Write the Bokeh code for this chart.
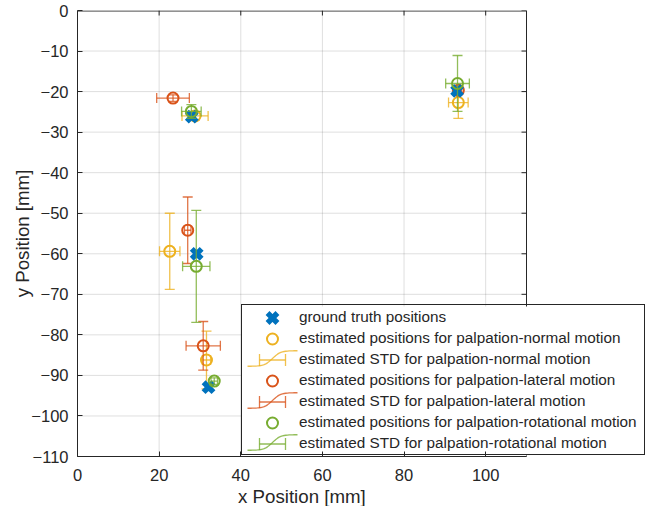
import numpy as np
from bokeh.plotting import figure
from bokeh.models import ColumnDataSource, Legend, LegendItem, FixedTicker, Range1d, Title
from bokeh.embed import file_html
from bokeh.resources import INLINE

# ---------------- data ----------------
gt_x = [28.0, 93.0, 29.2, 32.1]
gt_y = [-26.2, -19.8, -60.0, -92.9]

normal_x = [28.8, 93.3, 22.6, 31.6]
normal_y = [-26.0, -22.7, -59.4, -86.2]
normal_xstd = [3.2, 2.4, 2.5, 1.0]
normal_ystd = [1.0, 3.9, 9.4, 7.1]

lateral_x = [23.4, 93.3, 27.0, 30.8]
lateral_y = [-21.6, -19.7, -54.2, -82.7]
lateral_xstd = [4.0, 0.8, 0.8, 4.2]
lateral_ystd = [0.8, 0.8, 8.2, 6.0]

rot_x = [27.9, 93.1, 29.1, 33.5]
rot_y = [-24.9, -18.0, -63.1, -91.4]
rot_xstd = [2.4, 2.9, 3.35, 0.8]
rot_ystd = [1.7, 6.9, 13.8, 0.8]

legend_labels = [
    "ground truth positions",
    "estimated positions for palpation-normal motion",
    "estimated STD for palpation-normal motion",
    "estimated positions for palpation-lateral motion",
    "estimated STD for palpation-lateral motion",
    "estimated positions for palpation-rotational motion",
    "estimated STD for palpation-rotational motion",
]
x_ticks = [0, 20, 40, 60, 80, 100]
y_ticks = [0, -10, -20, -30, -40, -50, -60, -70, -80, -90, -100, -110]
AX_XMAX = 110  # axes box ends here
AX_YMIN, AX_YMAX = -110, 0

BLUE, YELLOW, RED, GREEN = "#0072BD", "#EDB120", "#D95319", "#77AC30"
INK = "#262626"
FONT = "Liberation Sans"

# ---------------- figure ----------------
AX_W = 449                      # pixel width of the 0..110 axes box
FW, FH = 568, 446               # frame is wider so the legend can stick out
PPX = AX_W / AX_XMAX
PPY = FH / (AX_YMAX - AX_YMIN)
X0, X1 = 0, FW / PPX

p = figure(frame_width=FW, frame_height=FH,
           x_range=Range1d(X0, X1), y_range=Range1d(AX_YMIN, AX_YMAX),
           output_backend="svg", toolbar_location=None,
           min_border_left=77, min_border_right=2,
           min_border_top=10, min_border_bottom=40,
           y_axis_label="y Position [mm]")
p.background_fill_color = "white"
p.border_fill_color = "white"
p.outline_line_color = None


def style_axis(ax, ticks):
    ax.ticker = FixedTicker(ticks=ticks)
    ax.axis_line_color = INK
    ax.axis_line_width = 1
    ax.major_tick_line_color = INK
    ax.major_tick_in = 5
    ax.major_tick_out = 0
    ax.minor_tick_in = 0
    ax.minor_tick_out = 0
    ax.major_label_text_font = FONT
    ax.major_label_text_color = INK
    ax.major_label_text_font_size = "16.5px"
    ax.axis_label_text_font = FONT
    ax.axis_label_text_font_style = "normal"
    ax.axis_label_text_color = INK
    ax.axis_label_text_font_size = "18.7px"


style_axis(p.xaxis[0], x_ticks)
style_axis(p.yaxis[0], y_ticks)
p.xaxis[0].bounds = (0, AX_XMAX)
p.xaxis[0].major_label_standoff = 12
p.yaxis[0].major_label_standoff = 9
p.yaxis[0].axis_label_standoff = -5

# x label centred under the 0..110 axes box (text is about 128 px wide)
xlab = Title(text="x Position [mm]", align="left", offset=AX_W / 2 - 64,
             text_font=FONT, text_font_size="18.7px", text_font_style="normal",
             text_color=INK, standoff=0)
p.add_layout(xlab, "below")

p.xgrid.visible = False
p.ygrid.visible = False

# grid lines only across the axes box
gkw = dict(line_color=INK, line_alpha=0.15, line_width=1)
p.segment(x0=x_ticks, y0=[AX_YMIN] * len(x_ticks), x1=x_ticks, y1=[AX_YMAX] * len(x_ticks), **gkw)
p.segment(x0=[0] * len(y_ticks), y0=y_ticks, x1=[AX_XMAX] * len(y_ticks), y1=y_ticks, **gkw)

# ---------------- box edges + inner ticks on top and right ----------------
bw = dict(line_color=INK, line_width=1)
p.segment(x0=[0], y0=[AX_YMAX - 0.5 / PPY], x1=[AX_XMAX], y1=[AX_YMAX - 0.5 / PPY], **bw)
p.segment(x0=[AX_XMAX], y0=[AX_YMIN], x1=[AX_XMAX], y1=[AX_YMAX], **bw)
p.segment(x0=x_ticks, y0=[AX_YMAX] * len(x_ticks), x1=x_ticks,
          y1=[AX_YMAX - 5 / PPY] * len(x_ticks), **bw)
p.segment(x0=[AX_XMAX] * len(y_ticks), y0=y_ticks, x1=[AX_XMAX - 5 / PPX] * len(y_ticks),
          y1=y_ticks, **bw)

# ---------------- legend background (white, hides grid and box) ----------------
LEG_X, LEG_Y = 164, 1
PAD, ROW, GW, NROWS, LW, LSO = 1, 21, 54, 7, 344, 2
leg_w = 2 * PAD + GW + LSO + LW
leg_h = 2 * PAD + NROWS * ROW


def dx(px):
    return X0 + px / PPX


def dy(py):
    return AX_YMIN + py / PPY


p.quad(left=[dx(LEG_X)], right=[dx(LEG_X + leg_w)], bottom=[dy(LEG_Y)], top=[dy(LEG_Y + leg_h)],
       fill_color="white", line_color=None)

# ---------------- data ----------------
EB_W, EB_A, CAP = 1.3, 0.8, 10


def add_series(xs, ys, xstd, ystd, color):
    xs, ys = np.array(xs), np.array(ys)
    xstd, ystd = np.array(xstd), np.array(ystd)
    src = ColumnDataSource(dict(x=xs, y=ys, yl=ys - ystd, yu=ys + ystd,
                                xl=xs - xstd, xu=xs + xstd))
    kw = dict(source=src, line_color=color, line_width=EB_W, line_alpha=EB_A)
    p.segment(x0="x", y0="yl", x1="x", y1="yu", **kw)
    p.segment(x0="xl", y0="y", x1="xu", y1="y", **kw)
    p.scatter(x="x", y="yl", marker="dash", size=CAP, **kw)
    p.scatter(x="x", y="yu", marker="dash", size=CAP, **kw)
    p.scatter(x="xl", y="y", marker="dash", angle=np.pi / 2, size=CAP, **kw)
    p.scatter(x="xu", y="y", marker="dash", angle=np.pi / 2, size=CAP, **kw)
    p.scatter(x="x", y="y", marker="circle", size=11, line_width=2,
              line_color=color, fill_color=None, source=src)


add_series(normal_x, normal_y, normal_xstd, normal_ystd, YELLOW)
add_series(lateral_x, lateral_y, lateral_xstd, lateral_ystd, RED)
p.scatter(x=gt_x, y=gt_y, marker="x", size=14, line_width=5.5, line_color=BLUE)
add_series(rot_x, rot_y, rot_xstd, rot_ystd, GREEN)

# ---------------- legend (box + text by Bokeh, icons as glyphs) ----------------
dummy = p.scatter(x=[np.nan], y=[np.nan], size=1, fill_alpha=0, line_alpha=0)
items = [LegendItem(label=lbl, renderers=[dummy]) for lbl in legend_labels]
legend = Legend(items=items, location=(LEG_X, LEG_Y), orientation="vertical",
                padding=PAD, margin=0, spacing=0,
                glyph_width=GW, glyph_height=ROW, label_height=ROW, label_width=LW,
                label_standoff=LSO,
                label_text_font=FONT, label_text_font_size="15.3px",
                label_text_color=INK,
                border_line_color=INK, border_line_width=1, border_line_alpha=1,
                background_fill_alpha=0)
p.add_layout(legend)

icon_cx = LEG_X + PAD + 30
row_c = [LEG_Y + leg_h - PAD - ROW * (i + 0.5) for i in range(NROWS)]

p.scatter(x=[dx(icon_cx)], y=[dy(row_c[0])], marker="x", size=14, line_width=5.5,
          line_color=BLUE)
for r, color in zip((1, 3, 5), (YELLOW, RED, GREEN)):
    p.scatter(x=[dx(icon_cx)], y=[dy(row_c[r])], marker="circle", size=11,
              line_width=2, line_color=color, fill_color=None)
for r, color in zip((2, 4, 6), (YELLOW, RED, GREEN)):
    cy = row_c[r]
    kw = dict(line_color=color, line_width=EB_W, line_alpha=EB_A)
    p.segment(x0=[dx(icon_cx - 13)], y0=[dy(cy)], x1=[dx(icon_cx + 13)], y1=[dy(cy)], **kw)
    p.scatter(x=[dx(icon_cx - 13), dx(icon_cx + 13)], y=[dy(cy), dy(cy)],
              marker="dash", angle=np.pi / 2, size=12, **kw)
    off = np.linspace(-25, 25, 31)
    p.line(x=[dx(icon_cx + o) for o in off],
           y=[dy(cy + 1.5 + 7.8 * np.tanh(o / 8.0)) for o in off], **kw)

open("out.html", "w").write(file_html(p, INLINE))
